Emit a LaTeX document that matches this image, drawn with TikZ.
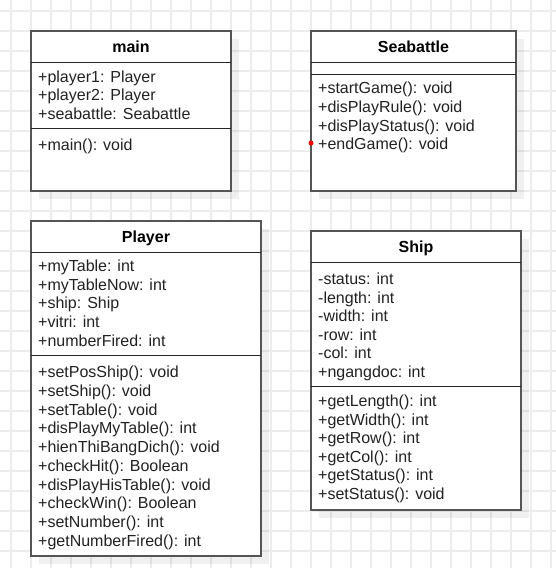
\documentclass[tikz,border=0pt]{standalone}
\usepackage{fontspec}
\setmainfont{Liberation Sans}

\definecolor{gridgray}{RGB}{236,236,236}
\definecolor{boxline}{RGB}{85,85,85}
\definecolor{textgray}{RGB}{34,34,34}

\begin{document}
\begin{tikzpicture}[x=1pt, y=-1pt,
    gridline/.style={gridgray, line width=1.6pt},
    shadowbox/.style={fill=black, opacity=0.06},
    classbox/.style={draw=boxline, line width=1.5pt, fill=white},
    sepline/.style={black!85, line width=1pt},
    classname/.style={anchor=base, inner sep=0pt, font=\fontsize{16}{19}\selectfont\bfseries, text=black},
    member/.style={anchor=base west, inner sep=0pt, font=\fontsize{16}{19}\selectfont, text=textgray}]
            \useasboundingbox[fill=white] (0,0) rectangle (556,568);
            % background grid
            \foreach \g in {11,31,...,551} {
                \draw[gridline] (\g,0) -- (\g,568);
                \draw[gridline] (0,\g) -- (556,\g);
            }
            % shadows
            \fill[shadowbox] (39,39) rectangle (239,199);
            \fill[shadowbox] (319,39) rectangle (524,199);
            \fill[shadowbox] (39,229) rectangle (269,564);
            \fill[shadowbox] (319,239) rectangle (529,518);
            % main
            \draw[classbox] (31,31) rectangle (231,191);
            \draw[sepline] (31,62) -- (231,62);
            \draw[sepline] (31,128) -- (231,128);
            \node[classname] (main) at (131,52.7) {main};
            \foreach \txt [count=\i] in {+player1: Player, +player2: Player, +seabattle: Seabattle}
                \node[member] (main-a\i) at (38,{82.2+18.65*(\i-1)}) {\txt};
            \node[member] (main-m1) at (38,150.5) {+main(): void};
            % Seabattle
            \draw[classbox] (311,31) rectangle (516,191);
            \draw[sepline] (311,62) -- (516,62);
            \draw[sepline] (311,74.7) -- (516,74.7);
            \node[classname] (seabattle) at (413.5,52.7) {Seabattle};
            \foreach \txt [count=\i] in {+startGame(): void, +disPlayRule(): void, +disPlayStatus(): void, +endGame(): void}
                \node[member] (seabattle-m\i) at (318,{93.8+18.6*(\i-1)}) {\txt};
            \fill[red] (311,143) circle (2.5);
            % Player
            \draw[classbox] (31,221) rectangle (261,556);
            \draw[sepline] (31,252.3) -- (261,252.3);
            \draw[sepline] (31,355.7) -- (261,355.7);
            \node[classname] (player) at (146,242.3) {Player};
            \foreach \txt [count=\i] in {+myTable: int, +myTableNow: int, +ship: Ship, +vitri: int, +numberFired: int}
                \node[member] (player-a\i) at (38,{271.5+18.7*(\i-1)}) {\txt};
            \foreach \txt [count=\i] in {+setPosShip(): void, +setShip(): void, +setTable(): void, +disPlayMyTable(): int,
                    +hienThiBangDich(): void, +checkHit(): Boolean, +disPlayHisTable(): void, +checkWin(): Boolean,
                    +setNumber(): int, +getNumberFired(): int}
                \node[member] (player-m\i) at (38,{377.8+18.7*(\i-1)}) {\txt};
            % Ship
            \draw[classbox] (311,231) rectangle (521,510);
            \draw[sepline] (311,262.3) -- (521,262.3);
            \draw[sepline] (311,386.7) -- (521,386.7);
            \node[classname] (ship) at (416,252.3) {Ship};
            \foreach \txt [count=\i] in {-status: int, -length: int, -width: int, -row: int, -col: int, +ngangdoc: int}
                \node[member] (ship-a\i) at (318,{284.5+18.6*(\i-1)}) {\txt};
            \foreach \txt [count=\i] in {+getLength(): int, +getWidth(): int, +getRow(): int, +getCol(): int,
                    +getStatus(): int, +setStatus(): void}
                \node[member] (ship-m\i) at (318,{406.5+18.6*(\i-1)}) {\txt};
        \end{tikzpicture}
\end{document}
